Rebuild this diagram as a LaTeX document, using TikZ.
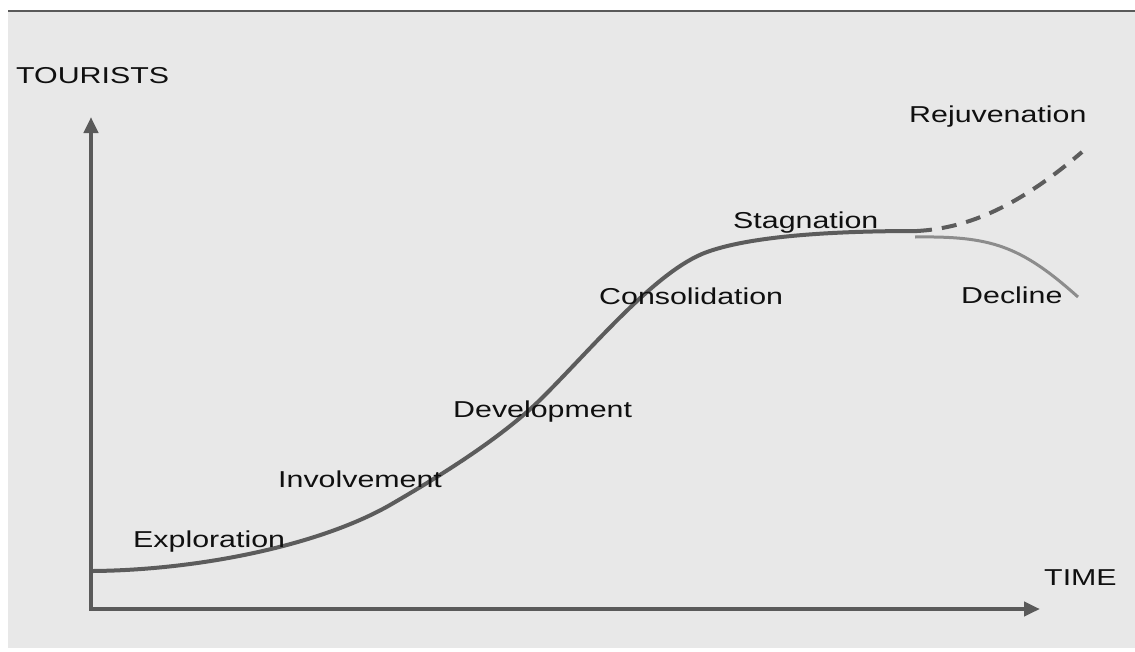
\documentclass[tikz,border=0pt]{standalone}
\usepackage{fontspec}
\setmainfont{Liberation Sans}
\usetikzlibrary{arrows.meta}
\definecolor{bg}{HTML}{E8E8E8}
\definecolor{axis}{HTML}{5A5A5A}
\definecolor{curve}{HTML}{5C5C5C}
\definecolor{decl}{HTML}{8C8C8C}
\definecolor{txt}{HTML}{101010}
\newcommand{\lbl}[1]{\scalebox{1.32}[1]{\fontsize{23}{27}\selectfont #1}}
\begin{document}
\begin{tikzpicture}[x=1pt,y=-1pt,
  labelnode/.style={anchor=base west,inner sep=0pt,text=txt},
  axisline/.style={draw=axis,line width=4pt,{Triangle[length=16pt,width=14pt]}-{Triangle[length=16pt,width=14pt]}},
  maincurve/.style={draw=curve,line width=4pt},
  rejcurve/.style={draw=curve,line width=4pt,dash pattern=on 15pt off 10pt},
  declcurve/.style={draw=decl,line width=3pt}]
\useasboundingbox (0,0) rectangle (1135,651);
\fill[white] (0,0) rectangle (1135,651);
\fill[bg] (8,12) rectangle (1135,648);
\draw[axis,line width=2pt] (8,11) -- (1135,11);
% axes
\coordinate (ytip) at (91,117);
\coordinate (origin) at (91,609);
\coordinate (xtip) at (1040,609);
\draw[axisline] (ytip) -- (origin) -- (xtip);
% curve
\coordinate (start) at (93,571);
\coordinate (split) at (917,231);
\draw[maincurve] (start) .. controls (200,570) and (320,545) .. (390,505)
  .. controls (440,476) and (503,437) .. (543,397)
  .. controls (595,345) and (657,270) .. (707,252)
  .. controls (757,234) and (850,231) .. (split);
\draw[rejcurve] (split) .. controls (970,228) and (1020,205) .. (1082,152);
\draw[declcurve] (915,237) .. controls (990,236) and (1020,245) .. (1078,297);
% labels
\node[labelnode] (tourists) at (16,83) {\lbl{TOURISTS}};
\node[labelnode] (time) at (1044,585) {\lbl{TIME}};
\node[labelnode] (expl) at (133,547) {\lbl{Exploration}};
\node[labelnode] (invo) at (278,487) {\lbl{Involvement}};
\node[labelnode] (devel) at (453,417) {\lbl{Development}};
\node[labelnode] (cons) at (599,304) {\lbl{Consolidation}};
\node[labelnode] (stag) at (733,228) {\lbl{Stagnation}};
\node[labelnode] (rej) at (909,122) {\lbl{Rejuvenation}};
\node[labelnode] (decl) at (961,303) {\lbl{Decline}};
\end{tikzpicture}
\end{document}
